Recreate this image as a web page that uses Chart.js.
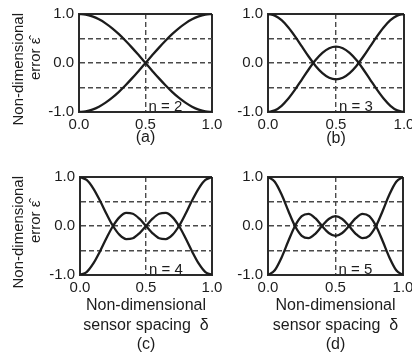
<!DOCTYPE html>
<html>
<head>
<meta charset="utf-8">
<script src="https://cdn.jsdelivr.net/npm/chart.js@4.4.1/dist/chart.umd.min.js"></script>
<style>
  html, body { margin: 0; padding: 0; background: #fff; overflow: hidden; }
  #wrap { position: relative; width: 412px; height: 358px; }
  #wrap canvas { position: absolute; left: 0; top: 0; }
</style>
</head>
<body>
<div id="wrap">
  <canvas id="chartA" width="412" height="358"></canvas>
  <canvas id="chartB" width="412" height="358"></canvas>
  <canvas id="chartC" width="412" height="358"></canvas>
  <canvas id="chartD" width="412" height="358"></canvas>
</div>
<script>
// sensor spacing (x) and the two mirrored error curves per panel
const delta = [0, 0.05, 0.1, 0.15, 0.2, 0.25, 0.3, 0.35, 0.4, 0.45, 0.5,
               0.55, 0.6, 0.65, 0.7, 0.75, 0.8, 0.85, 0.9, 0.95, 1];

const errN2 = [1, 0.988, 0.951, 0.891, 0.809, 0.707, 0.588, 0.454, 0.309, 0.156, 0,
               -0.156, -0.309, -0.454, -0.588, -0.707, -0.809, -0.891, -0.951, -0.988, -1];
const errN2Low = [-1, -0.988, -0.951, -0.891, -0.809, -0.707, -0.588, -0.454, -0.309, -0.156, 0,
                  0.156, 0.309, 0.454, 0.588, 0.707, 0.809, 0.891, 0.951, 0.988, 1];

const errN3 = [1, 0.967, 0.873, 0.725, 0.539, 0.333, 0.127, -0.059, -0.206, -0.301, -0.333,
               -0.301, -0.206, -0.059, 0.127, 0.333, 0.539, 0.725, 0.873, 0.967, 1];
const errN3Low = [-1, -0.967, -0.873, -0.725, -0.539, -0.333, -0.127, 0.059, 0.206, 0.301, 0.333,
                  0.301, 0.206, 0.059, -0.127, -0.333, -0.539, -0.725, -0.873, -0.967, -1];

const errN4 = [1, 0.94, 0.769, 0.524, 0.25, 0, -0.182, -0.267, -0.25, -0.149, 0,
               0.149, 0.25, 0.267, 0.182, 0, -0.25, -0.524, -0.769, -0.94, -1];
const errN4Low = [-1, -0.94, -0.769, -0.524, -0.25, 0, 0.182, 0.267, 0.25, 0.149, 0,
                  -0.149, -0.25, -0.267, -0.182, 0, 0.25, 0.524, 0.769, 0.94, 1];

const errN5 = [1, 0.904, 0.647, 0.312, 0, -0.2, -0.247, -0.159, 0, 0.143, 0.2,
               0.143, 0, -0.159, -0.247, -0.2, 0, 0.312, 0.647, 0.904, 1];
const errN5Low = [-1, -0.904, -0.647, -0.312, 0, 0.2, 0.247, 0.159, 0, -0.143, -0.2,
                  -0.143, 0, 0.159, 0.247, 0.2, 0, -0.312, -0.647, -0.904, -1];

// labelled ticks (grid also runs at +-0.5 on y)
const xTickValues = [0, 0.5, 1];
const yTickValues = [-1, 0, 1];

// trailing/leading blanks nudge the rotated lines like in the scan
const yTitle = ['Non-dimensional   ', '  error ε̂'];
const xTitle = ['Non-dimensional', 'sensor spacing  δ'];

const FONT = "'Liberation Sans', Arial, Helvetica, sans-serif";
const INK = '#1c1c1c';

// where each panel's plot box sits in the 412x358 page
const panels = [
  { id: 'chartA', n: 2, upper: errN2, lower: errN2Low, tag: '(a)', left: 79, right: 212, top: 14, bottom: 112, xh: 35, yw: 79, yTitle: true, xTitle: false },
  { id: 'chartB', n: 3, upper: errN3, lower: errN3Low, tag: '(b)', left: 268, right: 404, top: 14, bottom: 112, xh: 36, yw: 38, yTitle: false, xTitle: false },
  { id: 'chartC', n: 4, upper: errN4, lower: errN4Low, tag: '(c)', left: 80, right: 212, top: 177, bottom: 275, xh: 79, yw: 80, yTitle: true, xTitle: true },
  { id: 'chartD', n: 5, upper: errN5, lower: errN5Low, tag: '(d)', left: 268, right: 403, top: 177, bottom: 275, xh: 79, yw: 38, yTitle: false, xTitle: true }
];

const nLabel = {
  id: 'nLabel',
  afterDatasetsDraw(chart, args, opts) {
    const { ctx, chartArea, scales } = chart;
    ctx.save();
    ctx.font = '15px ' + FONT;
    ctx.fillStyle = INK;
    ctx.textBaseline = 'alphabetic';
    ctx.textAlign = 'left';
    ctx.fillText(opts.text, scales.x.getPixelForValue(0.5) + 3, chartArea.bottom - 1);
    ctx.restore();
  }
};

function isEdge(ctx, lo, hi) {
  return ctx.tick && (ctx.tick.value === lo || ctx.tick.value === hi);
}

function toPoints(values) {
  return values.map((v, i) => ({ x: delta[i], y: v }));
}

function buildChart(p) {
  const W = 412, H = 358;
  const curve = {
    borderColor: INK,
    borderWidth: 2.3,
    pointRadius: 0,
    fill: false,
    cubicInterpolationMode: 'monotone'
  };
  const grid = (lo, hi) => ({
    drawTicks: false,
    color: ctx => isEdge(ctx, lo, hi) ? '#2a2a2a' : '#4a4a4a',
    lineWidth: ctx => isEdge(ctx, lo, hi) ? 2 : 1.4
  });
  const border = (lo, hi) => ({
    display: true,
    color: '#2a2a2a',
    width: 2,
    dash: ctx => isEdge(ctx, lo, hi) ? [] : [5, 3]
  });

  new Chart(document.getElementById(p.id), {
    type: 'line',
    data: {
      datasets: [
        Object.assign({ data: toPoints(p.upper) }, curve),
        Object.assign({ data: toPoints(p.lower) }, curve)
      ]
    },
    options: {
      responsive: false,
      animation: false,
      events: [],
      layout: {
        padding: { left: p.left - p.yw, top: p.top, right: W - p.right, bottom: H - p.bottom - p.xh }
      },
      plugins: {
        legend: { display: false },
        tooltip: { enabled: false },
        nLabel: { text: 'n = ' + p.n }
      },
      scales: {
        x: {
          type: 'linear',
          min: 0,
          max: 1,
          grid: grid(0, 1),
          border: border(0, 1),
          ticks: {
            stepSize: 0.5,
            padding: 4,
            color: INK,
            font: { family: FONT, size: 15 },
            maxRotation: 0,
            callback: v => xTickValues.includes(v) ? v.toFixed(1) : ''
          },
          title: {
            display: true,
            text: p.xTitle ? xTitle.concat([p.tag]) : [p.tag],
            color: INK,
            font: { family: FONT, size: 16, lineHeight: 1.2 },
            padding: 0
          },
          afterFit: s => { s.height = p.xh; s.paddingLeft = 0; s.paddingRight = 0; }
        },
        y: {
          min: -1,
          max: 1,
          grid: grid(-1, 1),
          border: border(-1, 1),
          ticks: {
            stepSize: 0.5,
            padding: 5,
            color: INK,
            font: { family: FONT, size: 15 },
            callback: v => yTickValues.includes(v) ? v.toFixed(1) : ''
          },
          title: {
            display: p.yTitle,
            text: yTitle,
            color: INK,
            font: { family: FONT, size: 15, lineHeight: 1.1 },
            padding: { top: 11, bottom: 0 }
          },
          afterFit: s => { s.width = p.yw; s.paddingTop = 0; s.paddingBottom = 0; }
        }
      }
    },
    plugins: [nLabel]
  });
}

panels.forEach(buildChart);
</script>
</body>
</html>
